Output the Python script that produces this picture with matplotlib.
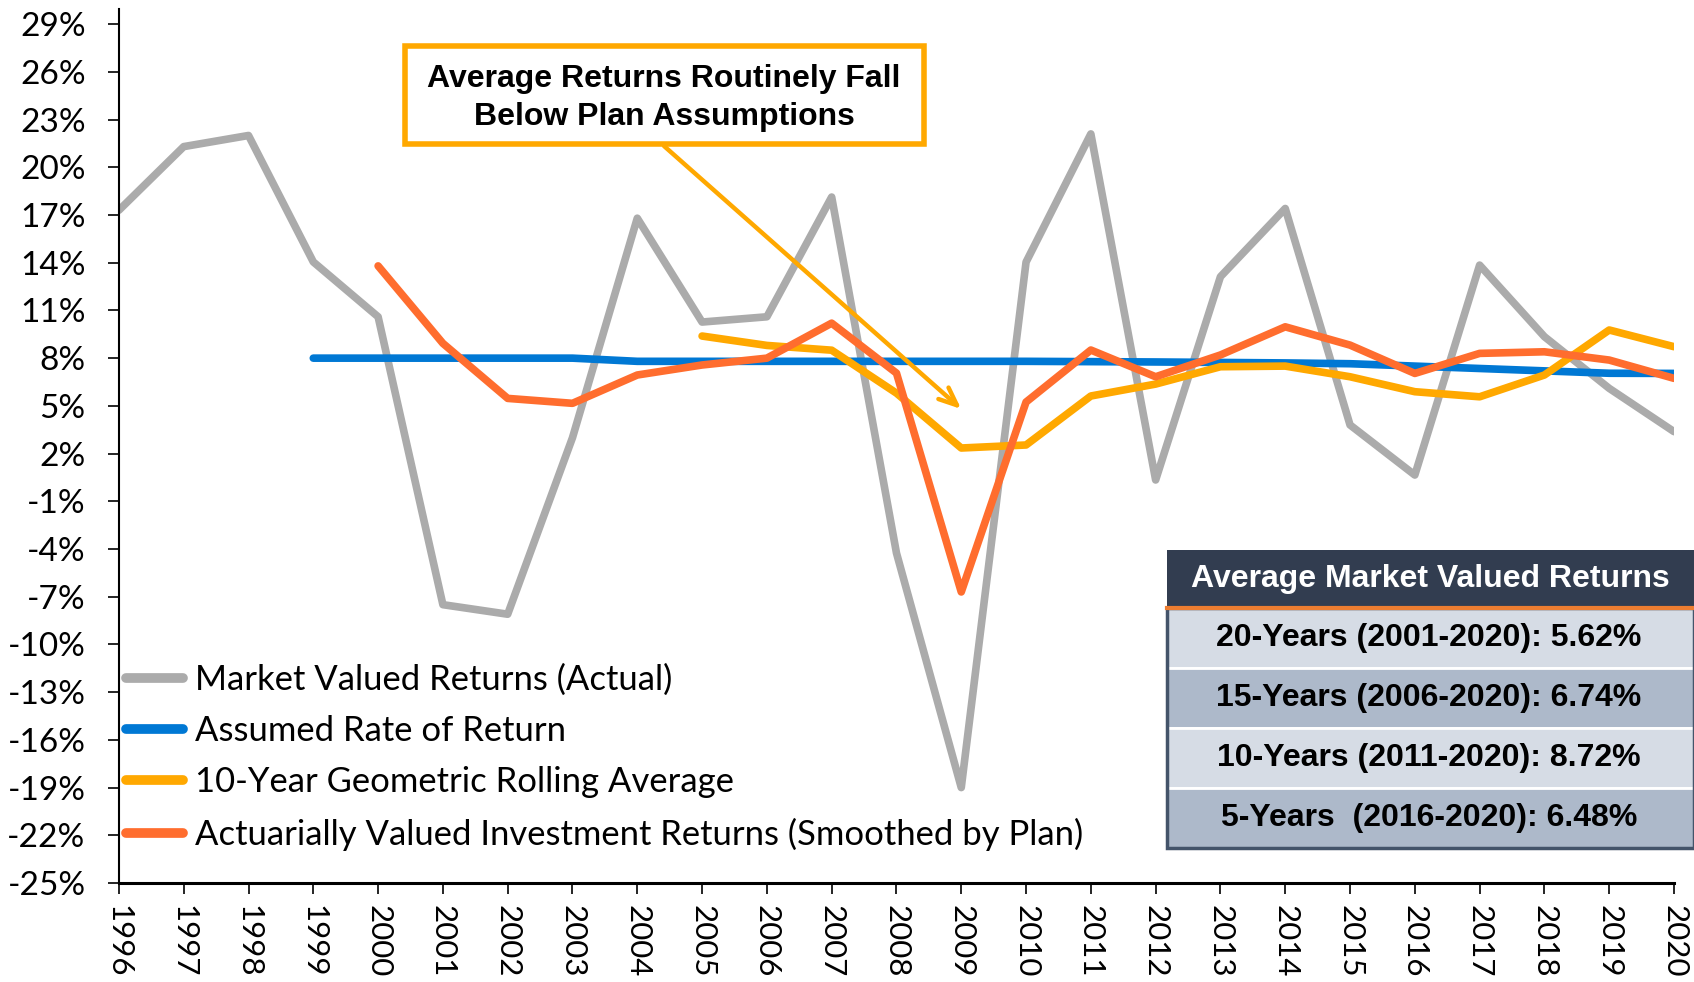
import numpy as np
import matplotlib
matplotlib.use('Agg')
import matplotlib.pyplot as plt
from matplotlib.patches import Rectangle, FancyBboxPatch

# data
years = list(range(1996, 2021))
market = [17.3, 21.3, 22.0, 14.05, 10.6, -7.5, -8.1, 3.0, 16.8, 10.27, 10.6, 18.13, -4.25,
          -19.0, 14.04, 22.1, 0.34, 13.12, 17.41, 3.8, 0.65, 13.85, 9.35, 6.1, 3.38]
assumed_years = list(range(1999, 2021))
assumed = [8.0, 8.0, 8.0, 8.0, 8.0, 7.8, 7.8, 7.8, 7.8, 7.8, 7.8, 7.8, 7.78, 7.76, 7.73,
           7.7, 7.65, 7.5, 7.35, 7.2, 7.05, 7.04][:len(assumed_years)]
rolling_years = list(range(2005, 2021))
rolling = [9.39, 8.8, 8.5, 5.8, 2.35, 2.54, 5.62, 6.37, 7.46, 7.5, 6.83, 5.89, 5.57, 6.94, 9.77, 8.72]
actuarial_years = list(range(2000, 2021))
actuarial = [13.8, 8.93, 5.47, 5.16, 6.94, 7.57, 8.0, 10.2, 7.06, -6.7, 5.24, 8.51, 6.83, 8.2,
             9.97, 8.82, 7.04, 8.3, 8.4, 7.88, 6.73]
yticks = list(range(-25, 30, 3))

labels = ['Market Valued Returns (Actual)', 'Assumed Rate of Return',
          '10-Year Geometric Rolling Average',
          'Actuarially Valued Investment Returns (Smoothed by Plan)']
table_title = 'Average Market Valued Returns'
table_rows = ['20-Years (2001-2020): 5.62%', '15-Years (2006-2020): 6.74%',
              '10-Years (2011-2020): 8.72%', '5-Years  (2016-2020): 6.48%']
callout = 'Average Returns Routinely Fall\nBelow Plan Assumptions'

GRAY = '#ABABAB'
BLUE = '#0078D4'
YELLOW = '#FFA800'
ORANGE = '#FF6D2E'
ARIAL = ['Liberation Sans', 'DejaVu Sans']

plt.rcParams['font.family'] = ['Lato', 'DejaVu Sans']

fig = plt.figure(figsize=(16.94, 9.82), dpi=100)
ax = fig.add_axes([0.0702, 0.1008, 0.918, 0.89])

lw = 5.5
ax.plot(years, market, color=GRAY, lw=lw, solid_capstyle='round', solid_joinstyle='round', label=labels[0])
ax.plot(assumed_years, assumed, color=BLUE, lw=lw, solid_capstyle='round', solid_joinstyle='round', label=labels[1])
ax.plot(rolling_years, rolling, color=YELLOW, lw=lw, solid_capstyle='round', solid_joinstyle='round', label=labels[2])
ax.plot(actuarial_years, actuarial, color=ORANGE, lw=lw, solid_capstyle='round', solid_joinstyle='round', label=labels[3])

ax.set_xlim(1996, 2020)
ax.set_ylim(-25, 29.95)
ax.set_yticks(yticks)
ax.set_yticklabels(['%d%%' % v for v in yticks])
ax.set_xticks(years)
ax.set_xticklabels([str(y) for y in years], rotation=270)
ax.tick_params(axis='y', labelsize=24, direction='out', length=8, width=1.2, pad=16)
ax.tick_params(axis='x', labelsize=22.5, direction='out', length=8, width=1.2, pad=8)
for s in ['top', 'right']:
    ax.spines[s].set_visible(False)
ax.spines['left'].set_linewidth(1.5)
ax.spines['bottom'].set_linewidth(2.2)

leg = ax.legend(loc='lower left', bbox_to_anchor=(-0.011, 0.009), frameon=False, fontsize=24.9,
                handlelength=1.66, handletextpad=0.34, labelspacing=0.56, borderaxespad=0.3)
for h in leg.get_lines():
    h.set_linewidth(7)
    h.set_solid_capstyle('round')

# callout box and arrow (figure pixel coords -> fraction)
W, H = 1694.0, 982.0
box = FancyBboxPatch((405 / W, 1 - 144 / H), 519 / W, 98 / H, boxstyle='square,pad=0',
                     transform=fig.transFigure, fc='white', ec=YELLOW, lw=4, zorder=5)
fig.patches.append(box)
fig.text(664 / W, 1 - 98 / H, callout, ha='center', va='center', fontsize=23, fontweight='bold',
         family=ARIAL, linespacing=1.32, zorder=6)
ax.annotate('', xy=(2009.0, 4.8), xycoords='data',
            xytext=(664 / W, 1 - 146 / H), textcoords='figure fraction',
            arrowprops=dict(arrowstyle='->,head_length=1.3,head_width=0.55', color=YELLOW, lw=3.2,
                            shrinkA=0, shrinkB=0), zorder=4)

# summary table on the right
tx0, tx1 = 1167 / W, 1.0
header_top, header_bot = 550, 608
fig.patches.append(Rectangle((tx0, 1 - header_bot / H), tx1 - tx0, (header_bot - header_top) / H,
                             transform=fig.transFigure, fc='#323D50', ec='none', zorder=5))
fig.text((tx0 + tx1) / 2, 1 - (header_top + header_bot) / 2 / H, table_title, color='white',
         ha='center', va='center', fontsize=23, fontweight='bold', family=ARIAL, zorder=6)
row_h = 60
row_cols = ['#D6DCE5', '#ADB9CA', '#D6DCE5', '#ADB9CA']
for i, (txt, c) in enumerate(zip(table_rows, row_cols)):
    top = header_bot + i * row_h
    fig.patches.append(Rectangle((tx0, 1 - (top + row_h) / H), tx1 - tx0, row_h / H,
                                 transform=fig.transFigure, fc=c, ec='white', lw=2, zorder=5))
    fig.text((tx0 + tx1) / 2 - 0.001, 1 - (top + row_h / 2) / H, txt, ha='center', va='center',
             fontsize=23, fontweight='bold', family=ARIAL, zorder=6)
fig.patches.append(Rectangle((tx0, 1 - (header_bot + 4 * row_h) / H), tx1 - tx0, 4 * row_h / H,
                             transform=fig.transFigure, fc='none', ec='#44546A', lw=2.5, zorder=6))
fig.lines.append(plt.Line2D([tx0, tx1], [1 - header_bot / H, 1 - header_bot / H],
                            transform=fig.transFigure, color='#ED7D31', lw=3, zorder=7))

fig.savefig('out.png', dpi=100)
